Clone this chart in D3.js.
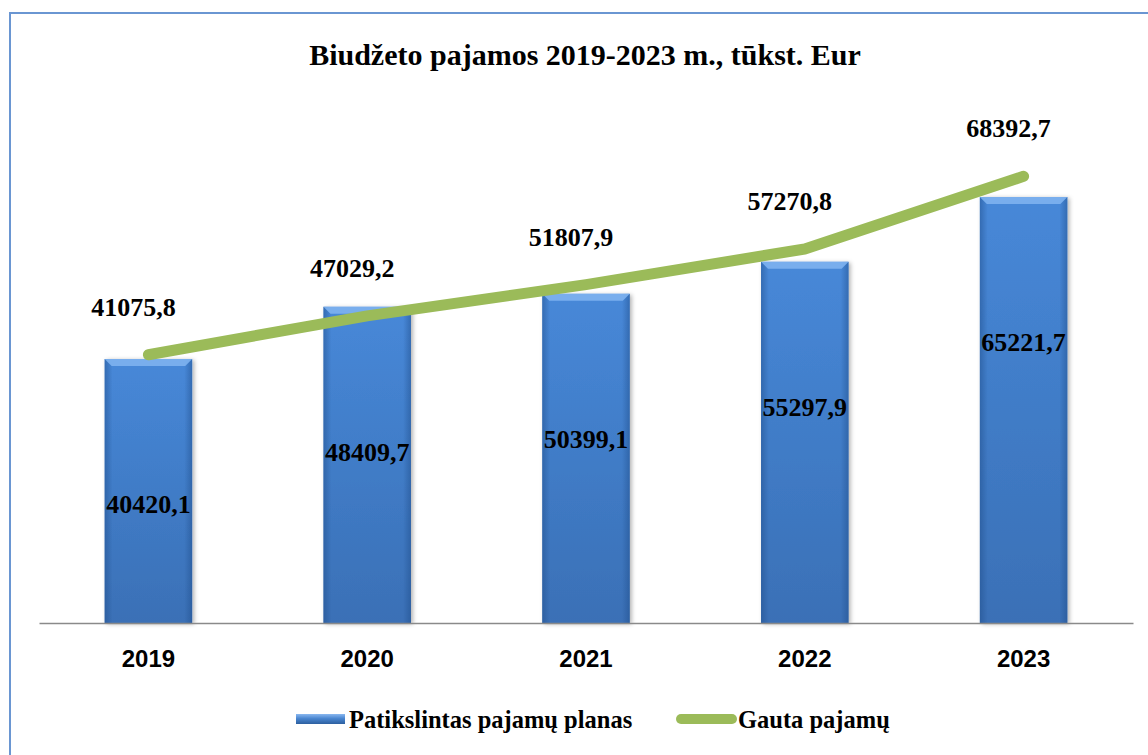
<!DOCTYPE html>
<html lang="lt">
<head>
    <meta charset="UTF-8">
    <title>Biudžeto pajamos</title>
    <script src="https://d3js.org/d3.v7.min.js"></script>
    <style>
        body { margin: 0; background: #fff; }
        svg text { font-family: "Liberation Serif", "Times New Roman", serif; font-weight: bold; fill: #000; }
        .x-axis text { font-family: "Liberation Sans", Arial, sans-serif; font-size: 24px; }
    </style>
</head>
<body>
    <svg width="1148" height="755"></svg>

    <script>
        // duomenys
        var years = ["2019", "2020", "2021", "2022", "2023"];
        var planValues = [40420.1, 48409.7, 50399.1, 55297.9, 65221.7];
        var actualValues = [41075.8, 47029.2, 51807.9, 57270.8, 68392.7];
        var seriesNames = ["Patikslintas pajamų planas", "Gauta pajamų"];
        var title = "Biudžeto pajamos 2019-2023 m., tūkst. Eur";

        var svg = d3.select("svg"),
            width = +svg.attr("width"),
            height = +svg.attr("height");

        var lt = d3.formatLocale({decimal: ",", thousands: " ", grouping: [3], currency: ["", ""]});
        var fmt = lt.format(".1f");

        var x = d3.scaleBand().domain(years).range([39, 1133]).paddingInner(0.6).paddingOuter(0.3);
        var y = d3.scaleLinear().domain([0, 80000]).range([623, 100.5]);

        var defs = svg.append("defs");

        var body = defs.append("linearGradient").attr("id", "barBody")
            .attr("x1", 0).attr("y1", 0).attr("x2", 0).attr("y2", 1);
        body.append("stop").attr("offset", "0%").attr("stop-color", "#4788d8");
        body.append("stop").attr("offset", "100%").attr("stop-color", "#3a70b6");

        var edge = defs.append("linearGradient").attr("id", "barEdge")
            .attr("x1", 0).attr("y1", 0).attr("x2", 1).attr("y2", 0);
        edge.append("stop").attr("offset", "0%").attr("stop-color", "#1d4a86").attr("stop-opacity", 0.45);
        edge.append("stop").attr("offset", "9%").attr("stop-color", "#1d4a86").attr("stop-opacity", 0);
        edge.append("stop").attr("offset", "91%").attr("stop-color", "#1d4a86").attr("stop-opacity", 0);
        edge.append("stop").attr("offset", "100%").attr("stop-color", "#1d4a86").attr("stop-opacity", 0.45);

        var leg = defs.append("linearGradient").attr("id", "legBar")
            .attr("x1", 0).attr("y1", 0).attr("x2", 0).attr("y2", 1);
        leg.append("stop").attr("offset", "0%").attr("stop-color", "#8ab8f0");
        leg.append("stop").attr("offset", "45%").attr("stop-color", "#4a86d0");
        leg.append("stop").attr("offset", "100%").attr("stop-color", "#2c5f9f");

        var shadow = defs.append("filter").attr("id", "shadow")
            .attr("x", "-20%").attr("y", "-10%").attr("width", "140%").attr("height", "120%");
        shadow.append("feDropShadow").attr("dx", 2).attr("dy", 1).attr("stdDeviation", 2)
            .attr("flood-color", "#000").attr("flood-opacity", 0.3);

        // remelis
        svg.append("rect")
            .attr("x", 10).attr("y", 13)
            .attr("width", 1160).attr("height", 770)
            .attr("fill", "none")
            .attr("stroke", "#6a96d2")
            .attr("stroke-width", 2);

        svg.append("text")
            .attr("x", 585).attr("y", 65)
            .attr("text-anchor", "middle")
            .style("font-size", "30px")
            .text(title);

        // stulpeliai
        var bars = svg.append("g").selectAll("g")
            .data(planValues)
            .enter().append("g");

        bars.append("rect")
            .attr("x", function (d, i) { return x(years[i]); })
            .attr("y", function (d) { return y(d); })
            .attr("width", x.bandwidth())
            .attr("height", function (d) { return y(0) - y(d); })
            .attr("fill", "url(#barBody)")
            .attr("filter", "url(#shadow)");

        bars.append("rect")
            .attr("x", function (d, i) { return x(years[i]); })
            .attr("y", function (d) { return y(d); })
            .attr("width", x.bandwidth())
            .attr("height", function (d) { return y(0) - y(d); })
            .attr("fill", "url(#barEdge)");

        bars.append("polygon")
            .attr("points", function (d, i) {
                var x0 = x(years[i]), x1 = x0 + x.bandwidth(), t = y(d), b = 7;
                return [[x0, t], [x1, t], [x1 - b, t + b], [x0 + b, t + b]].join(" ");
            })
            .attr("fill", "#7eb2f0")
            .attr("opacity", 0.9);

        // asis
        var axis = svg.append("g")
            .attr("class", "x-axis")
            .attr("transform", "translate(0," + y(0) + ")")
            .call(d3.axisBottom(x).tickSize(0).tickSizeOuter(0).tickPadding(27));
        axis.select(".domain").attr("stroke", "#8a8a8a").attr("stroke-width", 1.5);

        // linija
        var line = d3.line()
            .x(function (d, i) { return x(years[i]) + x.bandwidth() / 2; })
            .y(function (d) { return y(d); });

        svg.append("path")
            .datum(actualValues)
            .attr("d", line)
            .attr("fill", "none")
            .attr("stroke", "#9bbb59")
            .attr("stroke-width", 11)
            .attr("stroke-linecap", "round")
            .attr("stroke-linejoin", "round");

        // reiksmes
        svg.append("g").selectAll("text")
            .data(planValues)
            .enter().append("text")
            .attr("x", function (d, i) { return x(years[i]) + x.bandwidth() / 2; })
            .attr("y", function (d) { return y(d) + 145; })
            .attr("dy", "0.35em")
            .attr("text-anchor", "middle")
            .style("font-size", "26px")
            .text(fmt);

        svg.append("g").selectAll("text")
            .data(actualValues)
            .enter().append("text")
            .attr("x", function (d, i) { return x(years[i]) + x.bandwidth() / 2 - 15; })
            .attr("y", function (d) { return y(d) - 48; })
            .attr("dy", "0.35em")
            .attr("text-anchor", "middle")
            .style("font-size", "26px")
            .text(fmt);

        // legenda
        var legend = svg.append("g");
        legend.append("rect")
            .attr("x", 296).attr("y", 714)
            .attr("width", 49).attr("height", 10)
            .attr("fill", "url(#legBar)");
        legend.append("text")
            .attr("x", 349).attr("y", 728)
            .style("font-size", "24.5px")
            .text(seriesNames[0]);
        legend.append("line")
            .attr("x1", 681).attr("x2", 732)
            .attr("y1", 719).attr("y2", 719)
            .attr("stroke", "#9bbb59")
            .attr("stroke-width", 10)
            .attr("stroke-linecap", "round");
        legend.append("text")
            .attr("x", 738).attr("y", 728)
            .style("font-size", "24.5px")
            .text(seriesNames[1]);
    </script>
</body>
</html>
